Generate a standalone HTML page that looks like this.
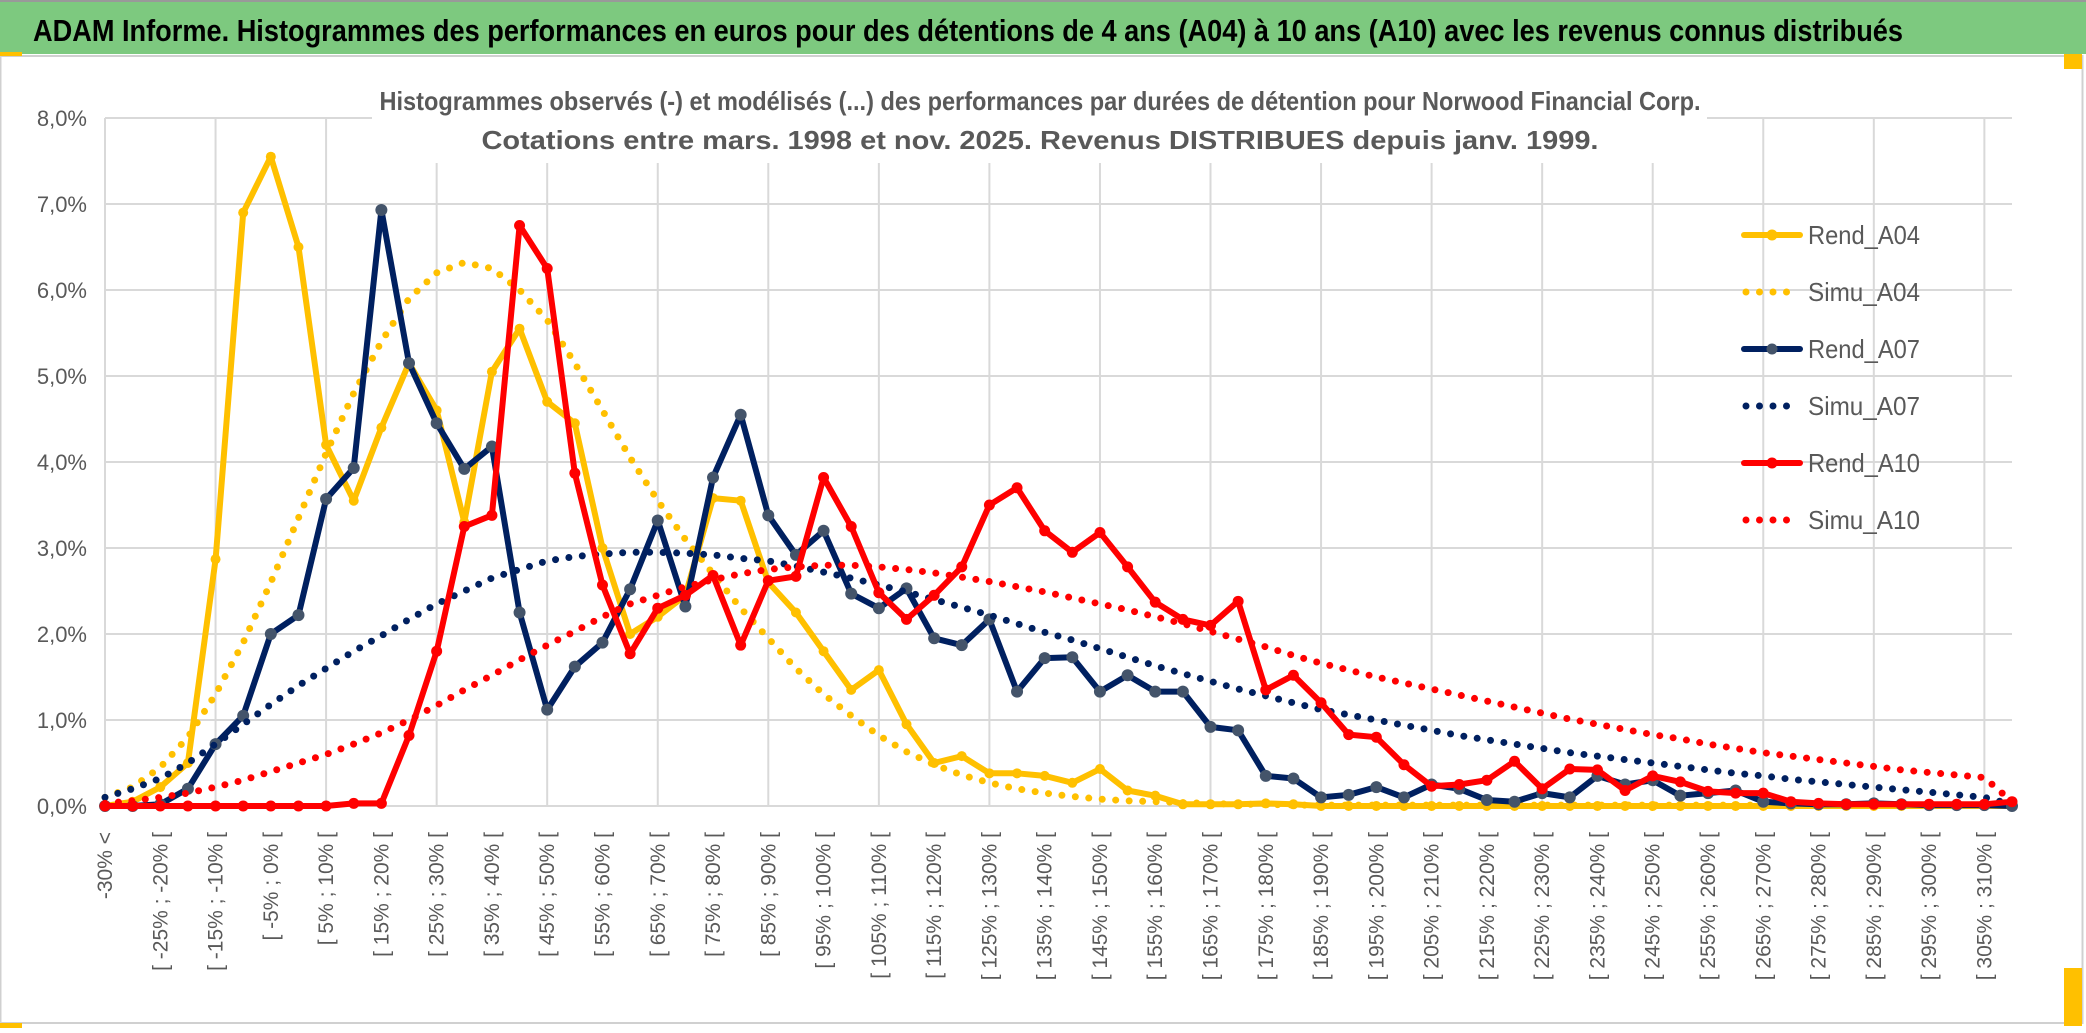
<!DOCTYPE html>
<html><head><meta charset="utf-8"><style>
html,body{margin:0;padding:0;background:#fff;}
svg{display:block;}
text{font-family:"Liberation Sans",sans-serif;}
</style></head><body>
<svg id="chart" width="2086" height="1033" viewBox="0 0 2086 1033" xmlns="http://www.w3.org/2000/svg">
<rect x="0" y="0" width="2086" height="1033" fill="#fff"/>
<rect x="0.5" y="56" width="2082" height="967" fill="#fff" stroke="#d0d0d0" stroke-width="2"/>
<rect x="0" y="1" width="2086" height="53" fill="#7dc97f"/>
<line x1="0" y1="1" x2="2086" y2="1" stroke="#999" stroke-width="2"/>
<rect x="0" y="52" width="22" height="4" fill="#ffc000"/>
<rect x="2064" y="54" width="18" height="15" fill="#ffc000"/>
<rect x="0" y="1023" width="22" height="5" fill="#ffc000"/>
<rect x="2064" y="968" width="18" height="58" fill="#ffc000"/>
<text x="33" y="41" font-size="31" font-weight="bold" fill="#000" textLength="1870" lengthAdjust="spacingAndGlyphs">ADAM Informe. Histogrammes des performances en euros pour des détentions de 4 ans (A04) à 10 ans (A10) avec les revenus connus distribués</text>
<g id="grid"></g>
<rect x="372" y="60" width="1335" height="103" fill="#fff"/>
<text x="1040" y="110" font-size="26" font-weight="bold" fill="#595959" text-anchor="middle" textLength="1321" lengthAdjust="spacingAndGlyphs">Histogrammes observés (-) et modélisés (...) des performances par durées de détention pour Norwood Financial Corp.</text>
<text x="1040" y="149" font-size="26" font-weight="bold" fill="#595959" text-anchor="middle" textLength="1117" lengthAdjust="spacingAndGlyphs">Cotations entre mars. 1998 et nov. 2025. Revenus DISTRIBUES depuis janv. 1999.</text>
<g id="yaxis"></g>
<g id="xaxis"></g>
<g id="series"></g>
<g id="legend"></g>
</svg>
<script>
const categories = ["-30% <","[ -30% ; -25% [","[ -25% ; -20% [","[ -20% ; -15% [","[ -15% ; -10% [","[ -10% ; -5% [","[ -5% ; 0% [","[ 0% ; 5% [","[ 5% ; 10% [","[ 10% ; 15% [","[ 15% ; 20% [","[ 20% ; 25% [","[ 25% ; 30% [","[ 30% ; 35% [","[ 35% ; 40% [","[ 40% ; 45% [","[ 45% ; 50% [","[ 50% ; 55% [","[ 55% ; 60% [","[ 60% ; 65% [","[ 65% ; 70% [","[ 70% ; 75% [","[ 75% ; 80% [","[ 80% ; 85% [","[ 85% ; 90% [","[ 90% ; 95% [","[ 95% ; 100% [","[ 100% ; 105% [","[ 105% ; 110% [","[ 110% ; 115% [","[ 115% ; 120% [","[ 120% ; 125% [","[ 125% ; 130% [","[ 130% ; 135% [","[ 135% ; 140% [","[ 140% ; 145% [","[ 145% ; 150% [","[ 150% ; 155% [","[ 155% ; 160% [","[ 160% ; 165% [","[ 165% ; 170% [","[ 170% ; 175% [","[ 175% ; 180% [","[ 180% ; 185% [","[ 185% ; 190% [","[ 190% ; 195% [","[ 195% ; 200% [","[ 200% ; 205% [","[ 205% ; 210% [","[ 210% ; 215% [","[ 215% ; 220% [","[ 220% ; 225% [","[ 225% ; 230% [","[ 230% ; 235% [","[ 235% ; 240% [","[ 240% ; 245% [","[ 245% ; 250% [","[ 250% ; 255% [","[ 255% ; 260% [","[ 260% ; 265% [","[ 265% ; 270% [","[ 270% ; 275% [","[ 275% ; 280% [","[ 280% ; 285% [","[ 285% ; 290% [","[ 290% ; 295% [","[ 295% ; 300% [","[ 300% ; 305% [","[ 305% ; 310% [","310% >="];
const yTicks = [0,1,2,3,4,5,6,7,8];
const yTickLabels = ["0,0%","1,0%","2,0%","3,0%","4,0%","5,0%","6,0%","7,0%","8,0%"];
const rendA04 = [0,0.05,0.22,0.5,2.87,6.9,7.55,6.5,4.2,3.55,4.4,5.15,4.6,3.3,5.05,5.55,4.7,4.45,3.0,2.0,2.2,2.45,3.58,3.55,2.6,2.25,1.8,1.35,1.58,0.95,0.5,0.58,0.38,0.38,0.35,0.27,0.43,0.18,0.12,0.02,0.02,0.02,0.03,0.02,0,0,0,0,0,0,0,0,0,0,0,0,0,0,0,0,0,0,0,0,0,0,0,0,0,0];
const simuA04 = [0.1,0.22,0.45,0.8,1.3,1.9,2.6,3.35,4.1,4.8,5.4,5.9,6.2,6.32,6.25,6.0,5.65,5.15,4.6,4.05,3.55,3.1,2.7,2.3,1.95,1.6,1.3,1.05,0.82,0.63,0.48,0.36,0.27,0.2,0.15,0.11,0.08,0.06,0.05,0.04,0.03,0.02,0.02,0.01,0.01,0.01,0.01,0.01,0.01,0.01,0.01,0.01,0.01,0.01,0.01,0.01,0.01,0.01,0.01,0.01,0.01,0.01,0.01,0.01,0.01,0.01,0.01,0.01,0.01,0.01];
const rendA07 = [0,0,0.02,0.2,0.72,1.05,2.0,2.22,3.57,3.93,6.93,5.15,4.45,3.92,4.18,2.25,1.12,1.62,1.9,2.52,3.32,2.32,3.82,4.55,3.38,2.92,3.2,2.47,2.3,2.53,1.95,1.87,2.17,1.33,1.72,1.73,1.33,1.52,1.33,1.33,0.92,0.88,0.35,0.32,0.1,0.13,0.22,0.1,0.25,0.2,0.07,0.05,0.15,0.1,0.35,0.25,0.3,0.12,0.15,0.18,0.05,0.03,0.02,0.02,0.03,0.02,0.01,0.01,0.01,0];
const simuA07 = [0.1,0.2,0.32,0.5,0.72,0.95,1.18,1.4,1.6,1.8,1.98,2.17,2.35,2.5,2.65,2.75,2.85,2.9,2.93,2.95,2.95,2.94,2.92,2.88,2.85,2.79,2.72,2.65,2.57,2.49,2.4,2.31,2.22,2.12,2.02,1.93,1.83,1.73,1.63,1.54,1.45,1.36,1.28,1.2,1.12,1.06,1.0,0.94,0.88,0.82,0.77,0.72,0.67,0.62,0.58,0.54,0.5,0.46,0.42,0.38,0.35,0.31,0.28,0.25,0.22,0.19,0.16,0.13,0.1,0.02];
const rendA10 = [0,0,0,0,0,0,0,0,0,0.03,0.03,0.82,1.8,3.25,3.38,6.75,6.25,3.87,2.57,1.77,2.3,2.45,2.68,1.87,2.62,2.67,3.82,3.25,2.48,2.17,2.45,2.78,3.5,3.7,3.2,2.95,3.18,2.78,2.37,2.17,2.1,2.38,1.35,1.52,1.2,0.83,0.8,0.48,0.23,0.25,0.3,0.52,0.2,0.43,0.42,0.18,0.35,0.28,0.17,0.15,0.15,0.05,0.03,0.02,0.02,0.02,0.02,0.02,0.02,0.05];
const simuA10 = [0.03,0.06,0.1,0.15,0.22,0.3,0.4,0.5,0.6,0.72,0.85,1.0,1.17,1.35,1.52,1.7,1.87,2.03,2.2,2.35,2.45,2.55,2.63,2.7,2.75,2.78,2.8,2.8,2.78,2.75,2.71,2.66,2.61,2.55,2.49,2.42,2.35,2.28,2.2,2.12,2.03,1.94,1.85,1.75,1.66,1.58,1.5,1.43,1.36,1.29,1.22,1.15,1.08,1.01,0.95,0.89,0.83,0.78,0.72,0.67,0.62,0.58,0.54,0.5,0.46,0.42,0.39,0.36,0.33,0.05];
const seriesNames = ["Rend_A04","Simu_A04","Rend_A07","Simu_A07","Rend_A10","Simu_A10"];

const NS = "http://www.w3.org/2000/svg";
const X0 = 105, DX = (2012 - 105) / (categories.length - 1);
const Y0 = 806, DY = 86;
function xPos(i){ return X0 + DX * i; }
function yPos(v){ return Y0 - DY * v; }
function mk(tag, attrs, parent){
  const e = document.createElementNS(NS, tag);
  for (const k in attrs) e.setAttribute(k, attrs[k]);
  parent.appendChild(e);
  return e;
}
const grid = document.getElementById('grid');
yTicks.forEach(function(t){
  const l = mk('line', {x1:X0, x2:xPos(categories.length-1), y1:yPos(t), y2:yPos(t), stroke:'#d9d9d9', 'stroke-width':2}, grid);
  
  
});
for (let i = 0; i < categories.length; i += 4) {
  const l = mk('line', {x1:xPos(i), x2:xPos(i), y1:yPos(8), y2:yPos(0), stroke:'#d9d9d9', 'stroke-width':2}, grid);
  
  
}
const yaxis = document.getElementById('yaxis');
yTicks.forEach(function(t, k){
  const tx = mk('text', {x:87, y:yPos(t)+8, 'font-size':22, fill:'#595959', 'text-anchor':'end'}, yaxis);
  tx.textContent = yTickLabels[k];
  
  
});
const xaxis = document.getElementById('xaxis');
categories.forEach(function(c, i){
  if (i % 2 !== 0) return;
  const x = xPos(i) + 7, y = 832;
  const tx = mk('text', {x:x, y:y, 'font-size':21, fill:'#595959', 'text-anchor':'end', transform:'rotate(-90 '+x+' '+y+')'}, xaxis);
  tx.textContent = c;
  
  
});
const seriesG = document.getElementById('series');
function pts(arr){ return arr.map(function(v, i){ return xPos(i).toFixed(1)+','+yPos(v).toFixed(1); }).join(' '); }
function solid(arr, color, mcolor, r, name){
  const g = mk('g', {}, seriesG);
  
  
  const p = mk('polyline', {points:pts(arr), fill:'none', stroke:color, 'stroke-width':6, 'stroke-linejoin':'round', 'stroke-linecap':'round'}, g);
  
  
  arr.forEach(function(v, i){
    const c = mk('circle', {cx:xPos(i), cy:yPos(v), r:r, fill:mcolor}, g);
    
    
  });
}
function dotted(arr, color, name){
  const p = mk('polyline', {points:pts(arr), fill:'none', stroke:color, 'stroke-width':7, 'stroke-linecap':'round', 'stroke-linejoin':'round', 'stroke-dasharray':'0 13.5'}, seriesG);
  
  
}
solid(rendA04, '#ffc000', '#ffc000', 5, 'rend-a04');
dotted(simuA04, '#ffc000', 'simu-a04');
solid(rendA07, '#002060', '#44546a', 6, 'rend-a07');
dotted(simuA07, '#002060', 'simu-a07');
solid(rendA10, '#ff0000', '#ff0000', 5.5, 'rend-a10');
dotted(simuA10, '#ff0000', 'simu-a10');

const legend = document.getElementById('legend');
const legColors = ['#ffc000','#ffc000','#002060','#002060','#ff0000','#ff0000'];
const legMarker = ['#ffc000',null,'#44546a',null,'#ff0000',null];
const legY = [235,292,349,406,463,520];
seriesNames.forEach(function(n, k){
  const g = mk('g', {}, legend);
  
  
  const y = legY[k];
  if (k % 2 === 0) {
    mk('line', {x1:1744, x2:1800, y1:y, y2:y, stroke:legColors[k], 'stroke-width':6, 'stroke-linecap':'round'}, g);
    mk('circle', {cx:1772, cy:y, r:5.5, fill:legMarker[k]}, g);
  } else {
    mk('line', {x1:1746, x2:1800, y1:y, y2:y, stroke:legColors[k], 'stroke-width':7, 'stroke-linecap':'round', 'stroke-dasharray':'0 13.5'}, g);
  }
  const t = mk('text', {x:1808, y:y+9, 'font-size':26, fill:'#595959', textLength:112, lengthAdjust:'spacingAndGlyphs'}, g);
  t.textContent = n;
  
  
});
</script>
</body></html>
